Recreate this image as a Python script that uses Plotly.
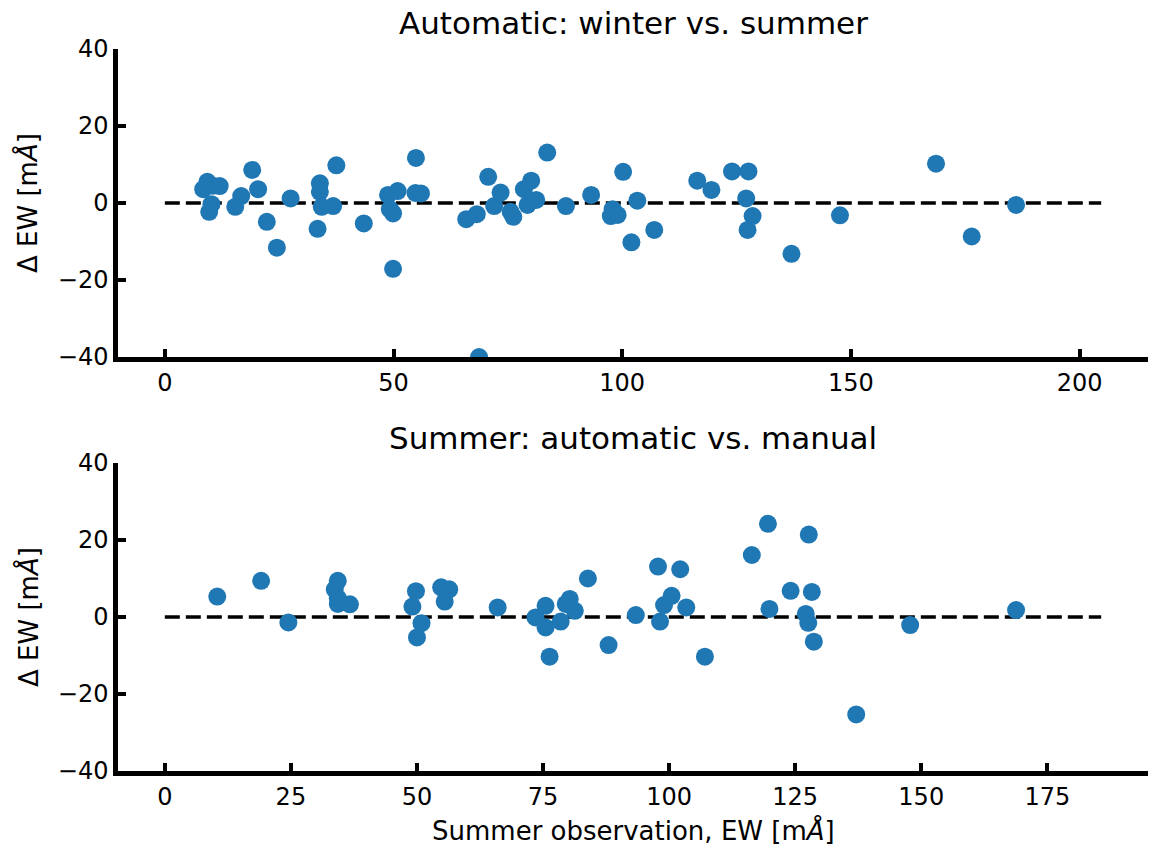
import plotly.graph_objects as go

# Automatic measurement: winter minus summer EW, against summer EW [mÅ]
top_x = [8.4, 9.3, 10.5, 12.0, 10.2, 9.7, 19.1, 20.4, 15.4, 16.7, 22.3, 24.5, 27.5,
         33.4, 33.9, 33.9, 34.3, 36.8, 37.5, 43.5, 48.8, 49.2, 49.9, 50.9, 49.9, 54.9,
         54.8, 56.0, 65.9, 68.2, 68.7, 70.7, 72.0, 73.4, 75.6, 76.2, 78.5, 80.1, 79.3,
         81.2, 83.6, 87.7, 93.2, 97.9, 97.5, 99.0, 100.2, 102.0, 103.3, 107.0, 116.4,
         119.5, 124.0, 127.6, 127.1, 128.5, 127.4, 137.0, 147.6, 168.6, 176.4, 186.1]
top_y = [3.6, 5.5, 4.5, 4.4, -0.3, -2.3, 8.6, 3.6, -1.0, 1.8, -4.9, -11.6, 1.2,
         -6.7, 5.1, 2.9, -1.0, -0.8, 9.8, -5.3, 2.1, -1.6, -2.7, 3.1, -17.1, 11.7,
         2.6, 2.5, -4.2, -2.9, -40.0, 6.8, -0.8, 2.7, -2.3, -3.6, 3.6, 5.8, -0.5,
         0.8, 13.1, -0.8, 2.1, -1.6, -3.4, -3.1, 8.1, -10.2, 0.6, -7.0, 5.8,
         3.4, 8.2, 8.2, 1.2, -3.4, -7.0, -13.2, -3.2, 10.2, -8.7, -0.5]

# Summer observation: automatic minus manual EW, against summer EW [mÅ]
bot_x = [10.4, 19.1, 24.5, 34.3, 33.7, 34.3, 34.3, 36.7, 49.8, 49.1, 50.9, 50.0,
         54.8, 56.4, 55.5, 66.0, 73.5, 75.5, 75.5, 76.3, 78.5, 79.5, 80.3, 81.3,
         83.9, 88.0, 93.4, 97.8, 98.2, 99.0, 100.5, 102.2, 103.4, 107.1, 116.4,
         119.6, 119.9, 124.1, 127.7, 128.3, 127.1, 127.6, 128.7, 137.1, 147.8, 168.8]
bot_y = [5.3, 9.4, -1.4, 9.4, 7.2, 4.9, 3.4, 3.3, 6.7, 2.7, -1.6, -5.3,
         7.7, 7.2, 4.0, 2.5, -0.1, 2.9, -2.7, -10.3, -1.2, 3.4, 4.7, 1.6,
         10.0, -7.3, 0.5, 13.1, -1.2, 3.1, 5.5, 12.4, 2.5, -10.3, 16.1,
         24.2, 2.1, 6.8, 21.4, 6.5, 0.8, -1.5, -6.4, -25.3, -2.1, 1.8]

top_xticks = [0, 50, 100, 150, 200]
bot_xticks = [0, 25, 50, 75, 100, 125, 150, 175]
yticks = [-40, -20, 0, 20, 40]

titles = ["Automatic: winter vs. summer", "Summer: automatic vs. manual"]
ylabel = "Δ EW [m<i>Å</i>]"
xlabel = "Summer observation, EW [m<i>Å</i>]"

BLUE = "#1f77b4"
FONT = "DejaVu Sans"

W, H = 1150, 848
ML, MR, MT, MB = 118, 2, 49, 77
plot_h = H - MT - MB
plot_w = W - ML - MR


def py_to_paper(py):
    return (H - MB - py) / plot_h


def px_to_paper(px):
    return (px - ML) / plot_w


fig = go.Figure()

panels = [
    (top_x, top_y, "x", "y"),
    (bot_x, bot_y, "x2", "y2"),
]

ranges = []
for xs, ys, xa, ya in panels:
    x_end = 1.1 * max(xs)
    # dashed zero reference
    fig.add_trace(go.Scatter(
        x=[0, x_end], y=[0, 0], mode="lines", xaxis=xa, yaxis=ya,
        line=dict(color="black", width=3.5, dash="15px,6px"),
        showlegend=False, hoverinfo="skip"))
    fig.add_trace(go.Scatter(
        x=xs, y=ys, mode="markers", xaxis=xa, yaxis=ya,
        marker=dict(color=BLUE, size=18, line=dict(width=0)),
        showlegend=False, cliponaxis=True))
    lo, hi = min(0, min(xs)), max(x_end, max(xs))
    pad = 0.05 * (hi - lo)
    ranges.append([lo - pad, hi + pad])

top_dom = [py_to_paper(357), py_to_paper(49)]
bot_dom = [py_to_paper(771), py_to_paper(463)]

axis_common = dict(
    showline=True, linewidth=4.5, linecolor="black",
    ticks="inside", ticklen=8, tickwidth=4, tickcolor="black",
    showgrid=False, zeroline=False, mirror=False,
    tickfont=dict(family=FONT, size=24, color="black"),
)

fig.update_layout(
    width=W, height=H,
    margin=dict(l=ML, r=MR, t=MT, b=MB, pad=0),
    paper_bgcolor="white", plot_bgcolor="white",
    font=dict(family=FONT, color="black"),
    xaxis=dict(domain=[0, 1], anchor="y", range=ranges[0],
               tickvals=top_xticks, **axis_common),
    yaxis=dict(domain=top_dom, anchor="x", range=[-40, 40],
               tickvals=yticks, **axis_common),
    xaxis2=dict(domain=[0, 1], anchor="y2", range=ranges[1],
                tickvals=bot_xticks, **axis_common),
    yaxis2=dict(domain=bot_dom, anchor="x2", range=[-40, 40],
                tickvals=yticks, **axis_common),
)

annotations = [
    dict(text=titles[0], x=0.5, y=py_to_paper(23)),
    dict(text=titles[1], x=0.5, y=py_to_paper(438)),
]
for a in annotations:
    fig.add_annotation(xref="paper", yref="paper", x=a["x"], y=a["y"],
                       text=a["text"], showarrow=False,
                       xanchor="center", yanchor="middle",
                       font=dict(family=FONT, size=31, color="black"))

for yc in (203, 617):
    fig.add_annotation(xref="paper", yref="paper", x=px_to_paper(28),
                       y=py_to_paper(yc), text=ylabel, textangle=-90,
                       showarrow=False, xanchor="center", yanchor="middle",
                       font=dict(family=FONT, size=26, color="black"))

fig.add_annotation(xref="paper", yref="paper", x=0.5, y=py_to_paper(830),
                   text=xlabel, showarrow=False,
                   xanchor="center", yanchor="middle",
                   font=dict(family=FONT, size=26, color="black"))

fig.write_html("out.html")
